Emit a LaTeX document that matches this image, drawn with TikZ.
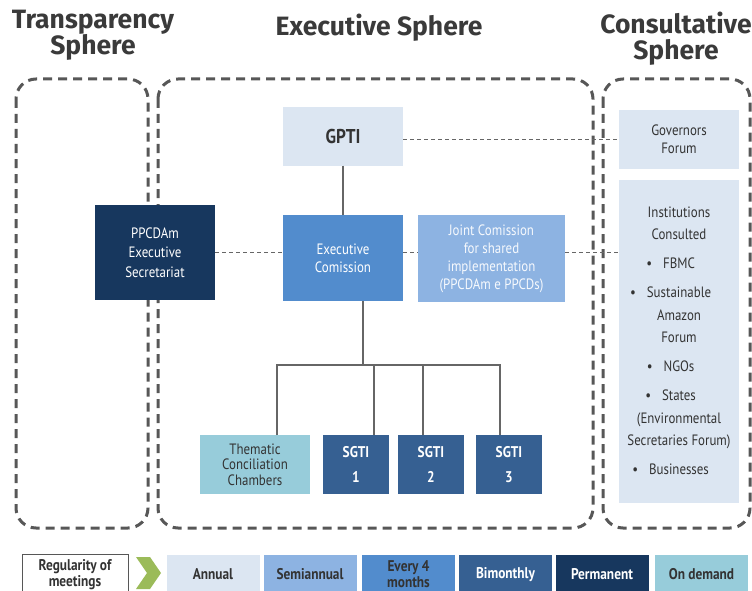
\documentclass[tikz,border=0pt]{standalone}
\usepackage{fontspec}
\setmainfont{PT Sans}[FakeStretch=0.86]
\newfontfamily\titlefont{Fira Sans}
\usetikzlibrary{calc}
\definecolor{cAnnual}{HTML}{DCE6F2}
\definecolor{cSemi}{HTML}{8DB3E2}
\definecolor{cFour}{HTML}{528CCD}
\definecolor{cBi}{HTML}{366092}
\definecolor{cPerm}{HTML}{17375E}
\definecolor{cDemand}{HTML}{97CCDA}
\definecolor{cGreen}{HTML}{9BBB59}
\definecolor{sphgray}{HTML}{575757}
\definecolor{conngray}{HTML}{666666}
\definecolor{txtdark}{HTML}{333333}
\definecolor{titlegray}{HTML}{3A3A3A}
\newcommand\mybul{\llap{\textbullet\hspace{11pt}}}
\begin{document}
\begin{tikzpicture}[x=1pt,y=-1pt,
  sphere/.style={draw=sphgray, line width=3pt, dash pattern=on 9pt off 6pt, rounded corners=20pt},
  conn/.style={draw=conngray, line width=2pt},
  dconn/.style={draw=conngray, line width=1.3pt, dash pattern=on 4pt off 3pt},
  box/.style={draw=none, inner sep=1pt, outer sep=0pt, align=center, font=\fontsize{15}{18}\selectfont},
  title/.style={align=center, text=titlegray, font=\titlefont\bfseries\fontsize{26.5}{26}\selectfont},
  sgti/.style={box, fill=cBi, text=white, minimum width=66pt, minimum height=59pt, font=\bfseries\fontsize{15.5}{25}\selectfont},
  leg/.style={box, minimum width=93pt, minimum height=40pt, font=\bfseries\fontsize{15.5}{16}\selectfont}
]
\useasboundingbox (0,0) rectangle (752,591);
\clip (0,0) rectangle (752,591);

% titles
\node[title] (tT) at (93,35) {Transparency\\Sphere};
\node[title] (tE) at (379,27.5) {Executive Sphere};
\node[title] (tC) at (676,39) {Consultative\\Sphere};

% spheres
\draw[sphere] (16,79) rectangle (148,528);
\draw[sphere] (158,79) rectangle (593,528);
\draw[sphere] (603,79) rectangle (750,528);

% nodes
\node[box, fill=cAnnual, text=txtdark, minimum width=120pt, minimum height=58pt, font=\bfseries\fontsize{20}{20}\selectfont] (gpti) at (343,136.5) {GPTI};
\node[box, fill=cAnnual, text=txtdark, minimum width=120pt, minimum height=59pt] (gf) at (679,139.5) {Governors\\Forum};
\node[box, fill=cAnnual, text=txtdark, minimum width=120pt, minimum height=323pt, font=\fontsize{15}{22.5}\selectfont] (inst) at (679,341)
  {Institutions\\Consulted\\[6.5pt]
   \mybul FBMC\\[6.5pt]
   \mybul Sustainable\\Amazon\\Forum\\[6.5pt]
   \mybul NGOs\\[6.5pt]
   \mybul States\\(Environmental\\Secretaries Forum)\\[6.5pt]
   \mybul Businesses};
\node[box, fill=cPerm, text=white, minimum width=120pt, minimum height=95pt, font=\fontsize{15}{19.5}\selectfont] (sec) at (155,252.5) {PPCDAm\\Executive\\Secretariat};
\node[box, fill=cFour, text=white, minimum width=120pt, minimum height=86pt] (ec) at (343,258) {Executive\\Comission};
\node[box, fill=cSemi, text=white!92!cSemi, minimum width=147pt, minimum height=87pt] (jc) at (491.5,258.5) {Joint Comission\\for shared\\implementation\\(PPCDAm e PPCDs)};
\node[box, fill=cDemand, text=txtdark, minimum width=110pt, minimum height=59pt, font=\fontsize{15}{15.5}\selectfont] (tcc) at (255,464.5) {Thematic\\Conciliation\\Chambers};
\node[sgti] (s1) at (356,464.5) {SGTI\\1};
\node[sgti] (s2) at (431,464.5) {SGTI\\2};
\node[sgti] (s3) at (509,464.5) {SGTI\\3};

% solid connectors
\coordinate (bus) at (0,365);
\draw[conn] (gpti.south) -- (ec.north);
\draw[conn] ([xshift=20pt]ec.south) -- ([xshift=20pt]ec.south |- bus);
\draw[conn] ([xshift=22pt]tcc.north) |- ([xshift=-9pt]s3.north |- bus) -- ([xshift=-9pt]s3.north);
\draw[conn] ([xshift=18pt]s1.north) -- ([xshift=18pt]s1.north |- bus);
\draw[conn] ([xshift=-8pt]s2.north) -- ([xshift=-8pt]s2.north |- bus);

% dashed connectors
\draw[dconn] (gpti.east |- gf.west) -- (gf.west);
\draw[dconn] (sec.east) -- (sec.east -| ec.west);
\draw[dconn] (ec.east |- sec.east) -- (jc.west |- sec.east);
\draw[dconn] (jc.east |- sec.east) -- (inst.west |- sec.east);

% legend
\node[box, draw=sphgray, line width=1pt, fill=white, text=txtdark, minimum width=106pt, minimum height=40pt, font=\bfseries\fontsize{15.5}{16}\selectfont] (lreg) at (75,574.5) {Regularity of\\meetings};
\fill[cGreen] (136,557) -- (150,557) -- (161,573) -- (150,589) -- (136,589) -- (147,573) -- cycle;
\node[leg, fill=cAnnual, text=txtdark] (lann) at (213,574.5) {Annual};
\node[leg, fill=cSemi, text=txtdark] (lsemi) at (310,574.5) {Semiannual};
\node[leg, fill=cFour, text=txtdark] (lfour) at (408.5,574.5) {Every 4\\months};
\node[leg, fill=cBi, text=white] (lbi) at (505.5,574.5) {Bimonthly};
\node[leg, fill=cPerm, text=white] (lperm) at (602,574.5) {Permanent};
\node[leg, fill=cDemand, text=txtdark] (ldem) at (701.5,574.5) {On demand};
\end{tikzpicture}
\end{document}
